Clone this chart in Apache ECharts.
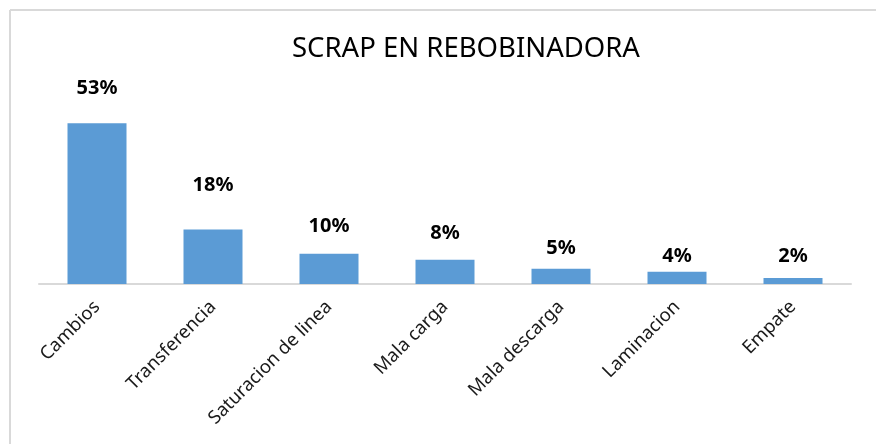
<!DOCTYPE html>
<html>
<head>
<meta charset="utf-8">
<script src="https://cdn.jsdelivr.net/npm/echarts@6/dist/echarts.min.js"></script>
<style>
  html, body { margin: 0; padding: 0; background: #fff; }
  #main { width: 876px; height: 444px; }
</style>
</head>
<body>
<div id="main"></div>
<script>
// categorias y porcentajes de scrap
var categorias = ['Cambios', 'Transferencia', 'Saturacion de linea', 'Mala carga', 'Mala descarga', 'Laminacion', 'Empate'];
var porcentajes = [53, 18, 10, 8, 5, 4, 2];

// separacion de cada etiqueta respecto a su barra (como en el original)
var labelGap = [25, 34, 17, 16, 11, 6, 12];

var fuente = 'Noto Sans';

var chart = echarts.init(document.getElementById('main'));

var datos = porcentajes.map(function (v, i) {
    return { value: v, label: { distance: labelGap[i] } };
});

var option = {
    animation: false,
    backgroundColor: '#ffffff',
    title: {
        text: 'SCRAP EN REBOBINADORA',
        left: 292,
        top: 35,
        padding: 0,
        textStyle: {
            fontFamily: fuente,
            fontSize: 27.5,
            fontWeight: 'normal',
            color: '#000000'
        }
    },
    graphic: [
        { type: 'line', shape: { x1: 10, y1: 10, x2: 876, y2: 10 }, style: { stroke: '#d9d9d9', lineWidth: 2 } },
        { type: 'line', shape: { x1: 10, y1: 10, x2: 10, y2: 444 }, style: { stroke: '#d9d9d9', lineWidth: 2 } }
    ],
    grid: {
        left: 39,
        right: 25,
        top: 102,
        bottom: 160
    },
    xAxis: {
        type: 'category',
        data: categorias,
        axisLine: { lineStyle: { color: '#d9d9d9', width: 2 } },
        axisTick: { show: false },
        axisLabel: {
            rotate: 45,
            margin: 20,
            interval: 0,
            fontFamily: fuente,
            fontSize: 18.5,
            color: '#1a1a1a'
        }
    },
    yAxis: {
        type: 'value',
        min: 0,
        max: 60,
        show: false
    },
    series: [{
        type: 'bar',
        data: datos,
        barWidth: 59,
        itemStyle: { color: '#5b9bd5' },
        label: {
            show: true,
            position: 'top',
            formatter: '{c}%',
            fontFamily: fuente,
            fontSize: 20,
            fontWeight: 'bold',
            color: '#000000'
        }
    }]
};

chart.setOption(option);
</script>
</body>
</html>
